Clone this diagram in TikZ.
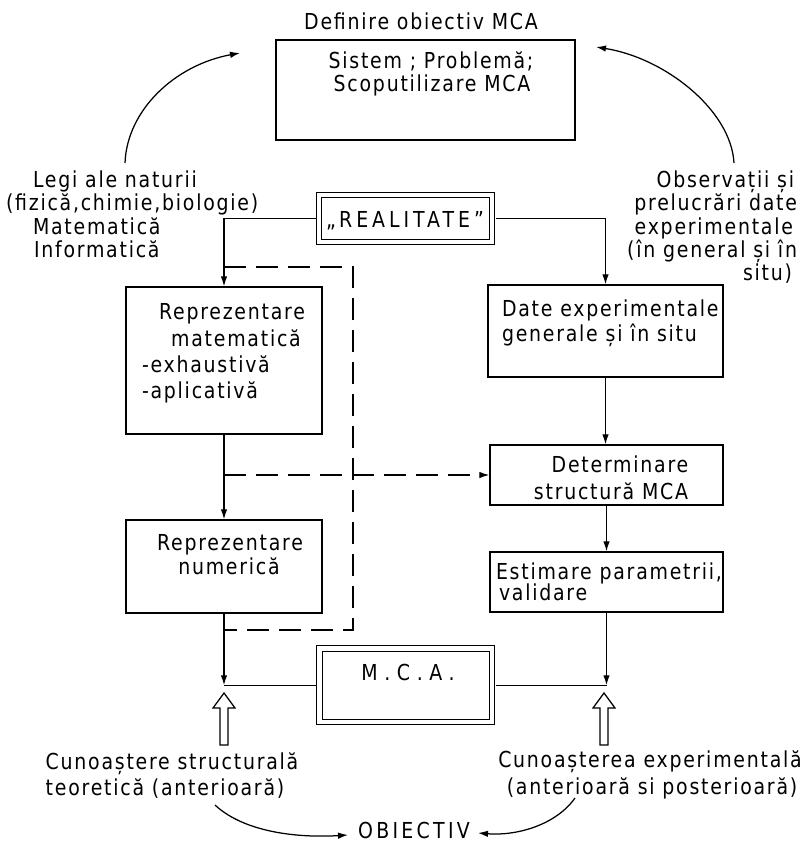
\documentclass[tikz,border=0pt]{standalone}
\usepackage{fontspec}
\setmainfont{DejaVu Sans}[FakeStretch=0.86, LetterSpace=8]
\usetikzlibrary{arrows.meta}

\begin{document}
\begin{tikzpicture}[x=1pt,y=-1pt,
  every node/.style={inner sep=0pt, outer sep=0pt},
  txt/.style={font=\fontsize{22}{26}\selectfont, anchor=base},
  box/.style={draw, line width=1.3pt, outer sep=0.65pt},
  dbox/.style={draw, line width=1.2pt, double, double distance=4.5pt, outer sep=3.5pt},
  conn/.style={line width=1.25pt},
  tip/.style={-{Latex[length=10pt,width=6.5pt]}},
  arr/.style={conn, tip},
  dsh/.style={conn, dash pattern=on 22pt off 10pt}
]
\useasboundingbox (0,0) rectangle (801,843);
\fill[white] (0,0) rectangle (801,843);

% ---- objective definition block
\node[txt] (deftitle) at (421,30) {Definire obiectiv MCA};
\node[box, minimum width=299, minimum height=100] (scope) at (425.5,90) {};
\node[txt] (scopeA) at (431,69) {Sistem ; Problemă;};
\node[txt] (scopeB) at (432,92) {Scoputilizare MCA};

% ---- side notes
\node[txt, anchor=base west] (lawsA) at (33,187) {Legi ale naturii};
\node[txt, anchor=base west] (lawsB) at (6,210) {(fizică,chimie,biologie)};
\node[txt, anchor=base west] (lawsC) at (33,234) {Matematică};
\node[txt, anchor=base west] (lawsD) at (34,257) {Informatică};

\node[txt, anchor=base east] (obsA) at (794,187) {Observații și};
\node[txt, anchor=base east] (obsB) at (797,210) {prelucrări date};
\node[txt, anchor=base east] (obsC) at (793,234) {experimentale};
\node[txt, anchor=base east] (obsD) at (797,257) {(în general și în};
\node[txt, anchor=base east] (obsE) at (792,280) {situ)};

% ---- reality
\node[dbox, minimum width=173, minimum height=47] (real) at (405.5,218.5) {};
\node[txt] (realtxt) at (405,227) {\addfontfeature{LetterSpace=18}„REALITATE”};

% ---- left column
\node[box, minimum width=196, minimum height=147] (mat) at (224,360.5) {};
\node[txt] (matA) at (232,319) {Reprezentare};
\node[txt] (matB) at (236,346) {matematică};
\node[txt, anchor=base west] (matC) at (142,372) {-exhaustivă};
\node[txt, anchor=base west] (matD) at (142,398) {-aplicativă};

\node[box, minimum width=196, minimum height=93] (num) at (224,566.5) {};
\node[txt] (numA) at (230,550) {Reprezentare};
\node[txt] (numB) at (229,574) {numerică};

% ---- right column
\node[box, minimum width=235, minimum height=92] (date) at (605.5,331) {};
\node[txt, anchor=base west] (dateA) at (502,316) {Date experimentale};
\node[txt, anchor=base west] (dateB) at (502,341) {generale și în situ};

\node[box, minimum width=233, minimum height=60] (det) at (606.5,475) {};
\node[txt] (detA) at (620,472) {Determinare};
\node[txt] (detB) at (611,499) {structură MCA};

\node[box, minimum width=233, minimum height=60] (est) at (606.5,582) {};
\node[txt, anchor=base west] (estA) at (496,579) {Estimare parametrii,};
\node[txt, anchor=base west] (estB) at (499,600) {validare};

% ---- model
\node[dbox, minimum width=172.5, minimum height=73.5] (mca) at (405.75,685.25) {};
\node[txt] (mcatxt) at (408,680) {\addfontfeature{LetterSpace=30}M.C.A.};

% ---- knowledge sources and objective
\node[txt] (theoA) at (172,769) {Cunoaștere structurală};
\node[txt] (theoB) at (165,795) {teoretică (anterioară)};
\node[txt] (expA) at (650,767) {Cunoașterea experimentală};
\node[txt] (expB) at (652,794) {(anterioară si posterioară)};
\node[txt] (goal) at (414,838) {\addfontfeature{LetterSpace=15}OBIECTIV};

% ---- solid connectors
\draw[arr] (real.west) -| (mat.north);
\draw[arr] (real.east) -| (date.north);
\draw[arr] (mat.south) -- (num.north);
\draw[arr] (date.south) -- (date.south |- det.north);
\draw[arr] (det.south) -- (est.north);
\coordinate (lj) at (num.south |- mca.west);
\coordinate (rj) at (est.south |- mca.east);
\draw[arr] (num.south) -- (lj);
\draw[conn] (lj) -- (mca.west);
\draw[arr] (est.south) -- (rj);
\draw[conn] (rj) -- (mca.east);

% ---- dashed connectors
\coordinate (dsplit) at (mat.south |- det.west);
\draw[dsh, tip] (dsplit) -- (det.west);
\coordinate (loopA) at (224,267);
\coordinate (loopB) at (353,267);
\coordinate (loopC) at (353,630);
\coordinate (loopD) at (224,630);
\draw[dsh] (loopA) -- (loopB) -- (loopC) -- (loopD);

% ---- hollow input arrows
\coordinate (lhead) at (224,693);
\coordinate (rhead) at (604,693);
\foreach \h in {lhead,rhead}
  \draw[conn, line join=miter] (\h) -- ++(11,15) -- ++(-7,0) -- ++(0,37) -- ++(-8,0)
        -- ++(0,-37) -- ++(-7,0) -- cycle;

% ---- curved feedback arrows
\coordinate (lawsOut) at (125,163);
\coordinate (scopeInL) at (240,53);
\coordinate (obsOut) at (734,163);
\coordinate (scopeInR) at (596,47);
\draw[arr] (lawsOut) .. controls (127,110) and (175,65) .. (scopeInL);
\draw[arr] (obsOut) .. controls (731,110) and (665,58) .. (scopeInR);

\coordinate (theoOut) at (215,805);
\coordinate (goalInL) at (348,835);
\coordinate (expOut) at (575,798);
\coordinate (goalInR) at (478,833);
\draw[arr] (theoOut) .. controls (245,833) and (300,838) .. (goalInL);
\draw[arr] (expOut) .. controls (555,826) and (515,836) .. (goalInR);
\end{tikzpicture}
\end{document}
